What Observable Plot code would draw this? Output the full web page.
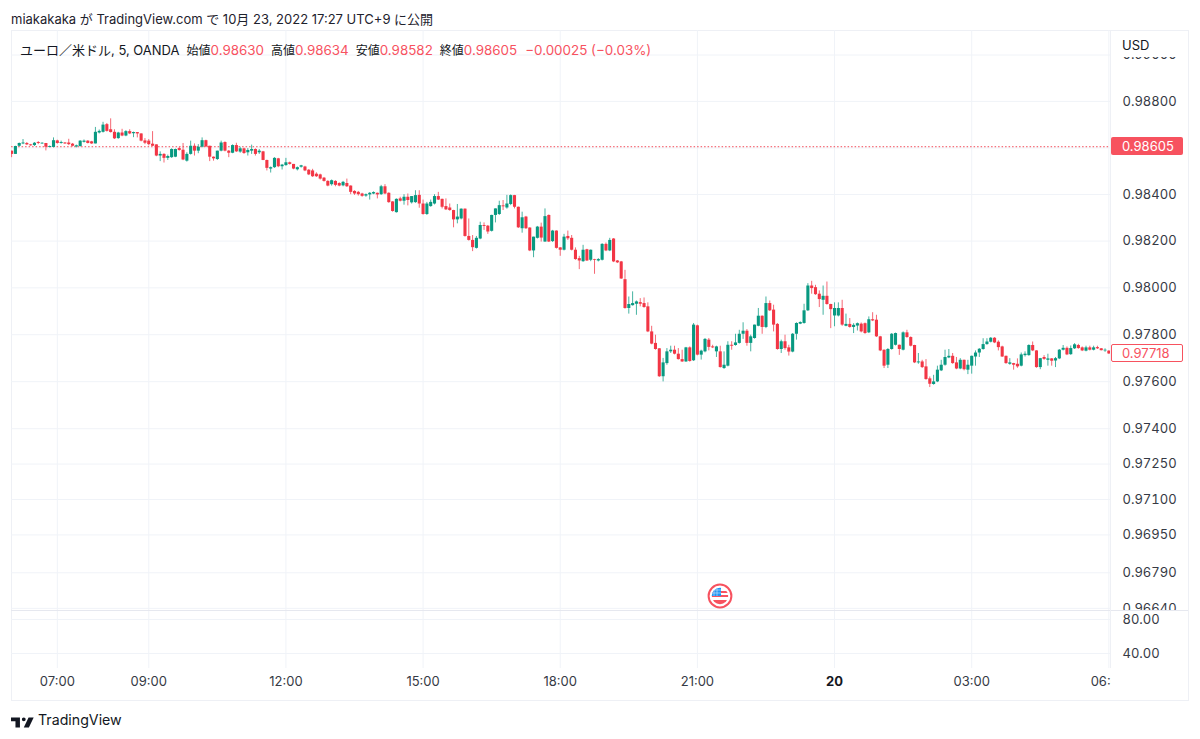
<!DOCTYPE html>
<html lang="ja">
<head>
<meta charset="utf-8">
<title>EUR/USD 5m</title>
<script src="https://cdn.jsdelivr.net/npm/d3@7"></script>
<script src="https://cdn.jsdelivr.net/npm/@observablehq/plot@0.6"></script>
<style>
  html,body{margin:0;background:#fff;}
  #chart{position:relative;width:1200px;height:739px;overflow:hidden;font-family:Inter,"Noto Sans CJK JP",sans-serif;color:#131722;}
  #chart>*{position:absolute;}
  .frame{left:11px;top:30px;width:1176px;height:669px;border:1px solid #eef0f5;box-sizing:content-box;}
  .sep{background:#e6e8ef;}
  #title{left:11px;top:12px;font-size:13px;line-height:15px;white-space:nowrap;color:#1e222d;}
  #legend{left:20px;top:42px;font-size:13px;line-height:16px;white-space:nowrap;color:#131722;}
  #legend .r{color:#f7525f;font-size:13.4px;}
  #legend .l{font-size:12px;margin-left:7px;}
  #legend .m{margin-left:8px;}
  .cover{background:#fff;}
  #usd{left:1122px;top:37px;font-size:13px;line-height:16px;}
  .badge{left:1111px;width:72px;height:18px;box-sizing:border-box;border-radius:2px;font-size:13px;line-height:18px;padding-left:11px;}
  #footer{left:38px;top:711px;font-size:14.2px;line-height:18px;color:#131722;}
</style>
</head>
<body>
<div id="chart"></div>
<script>
// Candles, 5-minute bars, price x 100000
const opens = [
98591,98577,98612,98622,98624,98618,98615,98628,98622,98624,
98607,98607,98635,98624,98626,98626,98621,98609,98611,98629,
98634,98631,98622,98669,98672,98705,98683,98672,98645,98669,
98656,98675,98666,98671,98665,98635,98634,98621,98618,98570,
98577,98560,98563,98565,98602,98595,98548,98577,98612,98591,
98608,98636,98612,98565,98555,98591,98628,98591,98582,98615,
98587,98601,98584,98591,98598,98584,98588,98551,98514,98520,
98558,98524,98529,98541,98534,98511,98522,98523,98509,98506,
98492,98489,98475,98461,98447,98461,98452,98442,98452,98441,
98418,98414,98407,98398,98403,98407,98410,98404,98438,98410,
98373,98327,98386,98376,98393,98369,98370,98401,98364,98319,
98353,98364,98396,98384,98353,98347,98336,98296,98300,98342,
98225,98208,98174,98214,98272,98269,98247,98315,98319,98356,
98347,98362,98400,98350,98258,98308,98261,98163,98217,98265,
98201,98315,98203,98248,98176,98166,98225,98217,98166,98130,
98117,98168,98123,98126,98120,98123,98191,98163,98214,98120,
98116,98040,97917,97929,97935,97942,97938,97924,97817,97768,
97745,97626,97682,97732,97739,97722,97699,97689,97749,97694,
97843,97718,97732,97782,97753,97732,97732,97661,97671,97760,
97759,97768,97807,97820,97768,97789,97841,97884,97836,97938,
97910,97849,97742,97775,97749,97731,97807,97850,97853,97907,
98013,98006,97978,97952,97969,97934,97885,97885,97917,97841,
97849,97836,97842,97850,97852,97813,97869,97867,97796,97739,
97675,97742,97760,97760,97739,97813,97793,97759,97685,97689,
97668,97617,97593,97604,97651,97675,97706,97713,97685,97659,
97696,97654,97671,97710,97727,97742,97763,97773,97790,97773,
97753,97713,97679,97682,97679,97671,97716,97716,97759,97736,
97665,97708,97696,97702,97693,97702,97739,97747,97720,97745,
97759,97749,97735,97749,97739,97750,97745,97736,97735];
const highs = [
98591,98612,98626,98641,98628,98620,98628,98632,98627,98624,
98613,98648,98638,98634,98628,98642,98624,98617,98636,98639,
98636,98633,98693,98682,98715,98710,98730,98683,98672,98685,
98679,98683,98673,98671,98666,98645,98641,98675,98618,98588,
98580,98574,98601,98600,98608,98624,98584,98634,98622,98619,
98648,98638,98612,98566,98591,98634,98631,98594,98618,98625,
98608,98604,98602,98617,98601,98598,98590,98552,98523,98563,
98560,98534,98560,98544,98534,98523,98530,98526,98512,98513,
98498,98492,98478,98464,98467,98464,98455,98461,98471,98442,
98421,98418,98410,98407,98413,98416,98411,98444,98447,98412,
98374,98386,98393,98404,98407,98396,98421,98421,98381,98371,
98381,98404,98414,98385,98386,98364,98337,98362,98343,98343,
98300,98229,98225,98286,98283,98272,98316,98343,98376,98379,
98401,98403,98401,98351,98329,98311,98262,98222,98268,98282,
98343,98317,98251,98249,98177,98234,98248,98229,98176,98140,
98187,98170,98167,98127,98130,98194,98197,98217,98216,98122,
98118,98080,97966,97988,97949,97959,97962,97941,97841,97803,
97746,97704,97746,97756,97756,97746,97739,97751,97753,97853,
97846,97739,97789,97789,97760,97756,97756,97732,97775,97775,
97807,97824,97856,97827,97803,97846,97917,97885,97966,97949,
97931,97853,97782,97803,97760,97810,97856,97860,97935,98023,
98033,98016,97992,98013,98030,97935,97941,97941,97952,97893,
97874,97852,97855,97855,97855,97881,97899,97888,97798,97740,
97746,97810,97812,97761,97817,97824,97796,97760,97725,97696,
97699,97625,97632,97671,97696,97739,97742,97725,97708,97703,
97697,97696,97714,97736,97746,97788,97788,97793,97793,97779,
97756,97714,97703,97683,97702,97727,97732,97762,97774,97737,
97704,97716,97722,97703,97708,97742,97759,97753,97757,97767,
97764,97753,97756,97756,97756,97756,97746,97745,97737];
const lows = [
98563,98577,98609,98619,98615,98612,98611,98619,98620,98592,
98605,98605,98621,98621,98620,98615,98609,98605,98608,98626,
98622,98620,98622,98665,98669,98673,98669,98641,98642,98653,
98653,98662,98649,98648,98631,98619,98614,98611,98567,98546,
98540,98551,98560,98563,98591,98550,98544,98574,98570,98580,
98605,98606,98546,98548,98551,98588,98588,98563,98580,98585,
98582,98577,98570,98577,98570,98577,98550,98506,98497,98517,
98520,98510,98526,98531,98511,98506,98518,98503,98486,98478,
98478,98467,98458,98438,98441,98438,98438,98438,98435,98404,
98401,98398,98393,98393,98381,98404,98386,98401,98404,98367,
98329,98325,98373,98359,98356,98364,98367,98346,98316,98315,
98350,98360,98379,98343,98336,98333,98262,98279,98296,98222,
98205,98160,98171,98211,98251,98234,98244,98283,98315,98336,
98342,98357,98343,98259,98239,98255,98160,98134,98214,98201,
98200,98199,98199,98171,98140,98163,98208,98163,98123,98083,
98114,98118,98117,98063,98116,98120,98160,98160,98113,98109,
98041,97914,97893,97927,97888,97924,97918,97814,97762,97739,
97623,97604,97675,97725,97719,97697,97687,97687,97688,97691,
97715,97697,97728,97736,97746,97708,97663,97657,97668,97739,
97756,97765,97785,97756,97732,97786,97839,97807,97831,97904,
97817,97739,97725,97739,97714,97728,97782,97848,97850,97904,
97978,97973,97921,97888,97931,97831,97839,97881,97841,97839,
97833,97810,97821,97813,97807,97810,97861,97793,97733,97661,
97661,97739,97757,97717,97736,97790,97753,97682,97679,97661,
97611,97580,97590,97601,97648,97671,97703,97679,97656,97656,
97651,97635,97637,97671,97708,97739,97760,97770,97767,97736,
97708,97679,97675,97654,97662,97668,97710,97713,97733,97662,
97656,97696,97671,97671,97665,97699,97736,97716,97717,97742,
97743,97733,97732,97736,97736,97742,97736,97730,97721];
const closes = [
98577,98611,98624,98626,98618,98614,98625,98624,98625,98608,
98611,98636,98624,98628,98622,98619,98612,98614,98634,98634,
98624,98622,98672,98676,98703,98676,98671,98644,98669,98656,
98675,98665,98671,98665,98634,98625,98619,98612,98570,98577,
98560,98568,98598,98598,98594,98553,98577,98612,98591,98608,
98636,98609,98565,98558,98591,98626,98591,98582,98615,98588,
98601,98581,98594,98598,98577,98591,98551,98517,98520,98560,
98524,98531,98541,98534,98514,98520,98528,98506,98489,98481,
98481,98471,98461,98441,98464,98444,98441,98457,98438,98414,
98407,98404,98397,98404,98410,98413,98403,98438,98407,98370,
98332,98384,98376,98393,98379,98396,98400,98364,98319,98364,
98371,98396,98381,98350,98339,98336,98296,98308,98342,98225,
98208,98177,98217,98272,98268,98244,98315,98343,98357,98352,
98364,98400,98350,98262,98305,98258,98163,98222,98265,98218,
98310,98201,98248,98174,98166,98222,98215,98166,98126,98120,
98166,98120,98166,98123,98126,98191,98163,98208,98116,98112,
98043,97917,97934,97938,97945,97935,97921,97817,97765,97742,
97626,97685,97732,97739,97722,97699,97689,97749,97691,97846,
97718,97735,97785,97751,97749,97753,97665,97675,97760,97756,
97770,97807,97820,97768,97796,97846,97884,97836,97938,97907,
97846,97742,97775,97746,97731,97807,97853,97857,97907,98013,
98002,97976,97955,97969,97934,97912,97917,97917,97846,97849,
97836,97845,97852,97817,97810,97869,97864,97796,97736,97671,
97742,97807,97810,97742,97813,97793,97756,97685,97689,97665,
97614,97594,97604,97654,97675,97708,97713,97682,97659,97696,
97656,97675,97713,97727,97743,97763,97774,97790,97770,97750,
97710,97682,97685,97675,97668,97719,97722,97759,97736,97665,
97703,97700,97702,97692,97703,97739,97747,97719,97746,97762,
97746,97736,97749,97739,97749,97745,97737,97739,97723];

const readBias = 5; // the reads above run a few points high against the log axis
const gridPrices = [0.99, 0.988, 0.986, 0.984, 0.982, 0.98, 0.978, 0.976, 0.974, 0.9725, 0.971, 0.9695, 0.9679, 0.9664];
const labelPrices = [0.99, 0.988, 0.984, 0.982, 0.98, 0.978, 0.976, 0.974, 0.9725, 0.971, 0.9695, 0.9679, 0.9664];
const oscTicks = [80, 40];
const timeLabels = ["07:00","09:00","12:00","15:00","18:00","21:00","03:00","06:00"];
const timeHours = [7, 9, 12, 15, 18, 21, 27, 30];
const dayLabel = "20";
const dayHour = 24;
const priceDomain = [0.96631, 0.99106];
const oscDomain = [22.4, 89.4];
const lastBarPrice = 0.98605;
const lastBarText = "0.98605";
const livePrice = 0.97718;
const liveText = "0.97718";
const eventHour = 21.5;

const green = "#089981", red = "#f23645", badgeRed = "#f7525f";
const gridColor = "#f0f3f8", textColor = "#363a45";

const hourDate = h => new Date(Date.UTC(2022, 9, 19, 0, 0) + h * 3600000);
const start = hourDate(6);
const end = new Date(+start + 288.43 * 300000);
const bars = opens.map((o, i) => ({
  t: new Date(+start + i * 300000),
  o: (o - readBias) / 1e5, h: (highs[i] - readBias) / 1e5,
  l: (lows[i] - readBias) / 1e5, c: (closes[i] - readBias) / 1e5,
  dir: closes[i] >= o ? "up" : "down"
}));
const gridDates = [...timeHours, dayHour].map(hourDate);
const fontStyle = {background: "transparent", overflow: "hidden", fontFamily: "Inter, sans-serif"};

const main = Plot.plot({
  width: 1200, height: 580, marginTop: 0, marginBottom: 0, marginLeft: 11.1, marginRight: 90,
  style: fontStyle,
  x: {type: "utc", domain: [start, end], axis: null},
  y: {type: "log", domain: priceDomain, axis: null},
  color: {domain: ["up", "down"], range: [green, red]},
  marks: [
    Plot.gridX(gridDates, {stroke: gridColor, strokeOpacity: 1}),
    Plot.gridY(gridPrices, {stroke: gridColor, strokeOpacity: 1}),
    Plot.ruleY([lastBarPrice], {stroke: red, strokeDasharray: "1.5,2", strokeOpacity: 0.9}),
    Plot.ruleX(bars, {x: "t", y1: "l", y2: "h", stroke: "dir", strokeWidth: 1, strokeOpacity: 0.75, clip: true}),
    Plot.ruleX(bars, {x: "t", y1: "o", y2: "c", stroke: "dir", strokeWidth: 3.1, clip: true}),
    Plot.axisY(labelPrices, {anchor: "right", tickSize: 0, tickPadding: 12, tickFormat: d3.format(".5f"), fontSize: 13, fill: textColor, label: null})
  ]
});

const lower = Plot.plot({
  width: 1200, height: 89, marginTop: 0, marginBottom: 32, marginLeft: 11.1, marginRight: 90,
  style: fontStyle,
  x: {type: "utc", domain: [start, end], axis: null},
  y: {domain: oscDomain, axis: null},
  marks: [
    Plot.gridX(gridDates, {stroke: gridColor, strokeOpacity: 1}),
    Plot.gridY(oscTicks, {stroke: gridColor, strokeOpacity: 1}),
    Plot.axisY(oscTicks, {anchor: "right", tickSize: 0, tickPadding: 12, tickFormat: d3.format(".2f"), fontSize: 13, fill: textColor, label: null}),
    Plot.text(timeLabels, {x: (d, i) => hourDate(timeHours[i]), text: d => d, frameAnchor: "bottom", dy: 17, fontSize: 13, fill: textColor}),
    Plot.text([dayLabel], {x: () => hourDate(dayHour), text: d => d, frameAnchor: "bottom", dy: 17, fontSize: 13, fontWeight: 700, fill: "#131722"})
  ]
});

const chart = document.getElementById("chart");
const add = (cls, css, html) => {
  const el = document.createElement("div");
  if (cls) el.className = cls;
  if (css) el.style.cssText = css;
  if (html) el.innerHTML = html;
  chart.appendChild(el);
  return el;
};

add("frame");
main.style.position = "absolute"; main.style.left = "0"; main.style.top = "30px"; chart.appendChild(main);
lower.style.position = "absolute"; lower.style.left = "0"; lower.style.top = "611px"; chart.appendChild(lower);
add("sep", "left:11px;top:610px;width:1177px;height:1px;");
add("sep", "left:1110px;top:30px;width:1px;height:638px;background:#eef0f5;");
// the price column hides what runs past it: the top tick and the last time label
add("cover", "left:1111px;top:31px;width:76px;height:26px;");
add("cover", "left:1110.5px;top:670px;width:76px;height:28px;");

add("", "", "").id = "title";
document.getElementById("title").textContent = "miakakaka が TradingView.com で 10月 23, 2022 17:27 UTC+9 に公開";
add("", "", `ユーロ／米ドル, 5, OANDA<span class="l">始値</span><span class="r">0.98630</span><span class="l">高値</span><span class="r">0.98634</span><span class="l">安値</span><span class="r">0.98582</span><span class="l">終値</span><span class="r">0.98605</span><span class="r m">−0.00025 (−0.03%)</span>`).id = "legend";
add("", "", "USD").id = "usd";

const yScale = main.scale("y"), xScale = main.scale("x");
const badgeTop = p => 30 + yScale.apply(p) - 9;
add("badge", `top:${badgeTop(lastBarPrice)}px;background:${badgeRed};color:#fff;`, lastBarText);
add("badge", `top:${badgeTop(livePrice)}px;background:#fff;border:1px solid ${badgeRed};color:${badgeRed};line-height:16px;padding-left:10px;`, liveText);

// economic event marker
const ex = xScale.apply(hourDate(eventHour));
add("", `left:${ex - 13}px;top:583px;width:26px;height:26px;`, `<svg width="26" height="26" viewBox="-13 -13 26 26">
  <defs><clipPath id="fc"><circle r="8.2"/></clipPath></defs>
  <circle r="11.4" fill="#fff" stroke="#f7525f" stroke-width="2"/>
  <g clip-path="url(#fc)">
    <rect x="-9" y="-9" width="18" height="18" fill="#fff"/>
    <rect x="-9" y="-5" width="18" height="2" fill="#f7525f"/>
    <rect x="-9" y="-1" width="18" height="2" fill="#f7525f"/>
    <rect x="-9" y="4" width="18" height="5" fill="#f7525f"/>
    <rect x="-9" y="-9" width="10" height="9" fill="#2196f3"/>
    <path d="M-6 -9V0M-3 -9V0M-9 -6H1M-9 -3H1" stroke="#cfe6fb" stroke-width=".6"/>
  </g></svg>`);

// footer logo
add("", "left:11px;top:713px;width:23px;height:13px;", `<svg width="23" height="13" viewBox="0 0 36 20"><path fill="#131722" d="M14 2H0v6h7v10h7V2ZM28 18h-8l7.5-16h8L28 18ZM20 2a3 3 0 1 1 0 6 3 3 0 0 1 0-6Z"/></svg>`);
add("", "", "TradingView").id = "footer";
</script>
</body>
</html>
